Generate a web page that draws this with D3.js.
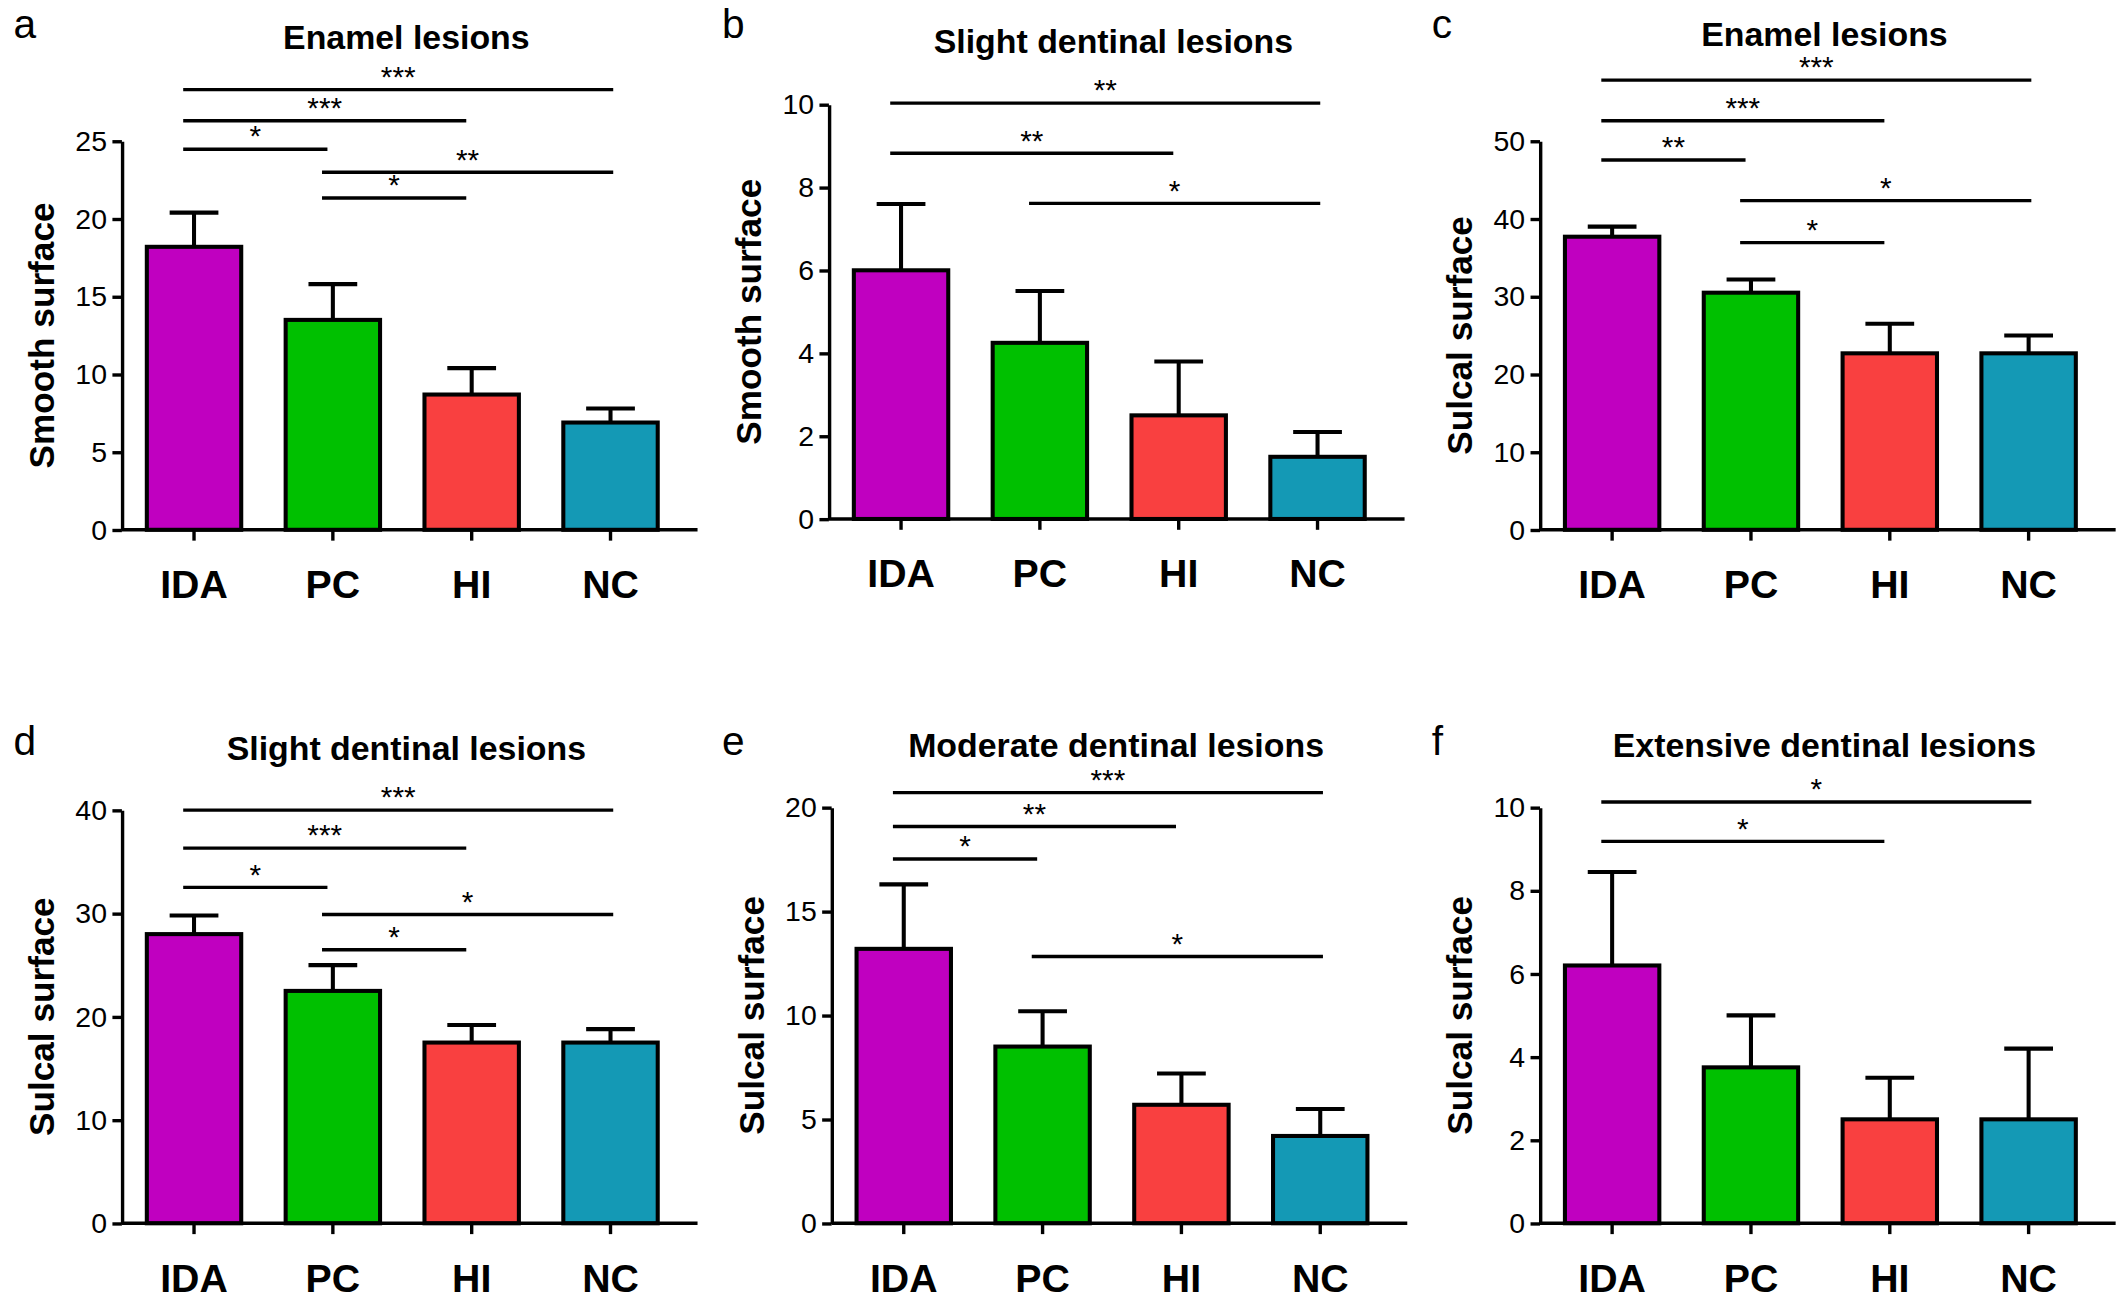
<!DOCTYPE html><html><head><meta charset="utf-8"><script src="https://cdn.jsdelivr.net/npm/d3@7"></script>
<style>body{margin:0;background:#fff}text{font-family:"Liberation Sans",Arial,sans-serif}</style></head><body>
<svg id="c" width="2117" height="1298" viewBox="0 0 1563 958"></svg>
<script>
const categories=["IDA","PC","HI","NC"];
const colors=["#c000c0","#00c000","#f94040","#1499b5"];
const panelLetters=["a","b","c","d","e","f"];
const titles=["Enamel lesions","Slight dentinal lesions","Enamel lesions","Slight dentinal lesions","Moderate dentinal lesions","Extensive dentinal lesions"];
const yLabels=["Smooth surface","Smooth surface","Sulcal surface","Sulcal surface","Sulcal surface","Sulcal surface"];
const yMax=[25,10,50,40,20,10];
const yStep=[5,2,10,10,5,2];
const means=[[18.2,13.5,8.7,6.9],[6.0,4.25,2.5,1.5],[37.7,30.5,22.7,22.7],[28,22.5,17.5,17.5],[13.2,8.5,5.7,4.2],[6.2,3.75,2.5,2.5]];
const sems=[[2.2,2.3,1.7,0.9],[1.6,1.25,1.3,0.6],[1.3,1.7,3.8,2.3],[1.8,2.5,1.7,1.3],[3.1,1.7,1.5,1.3],[2.25,1.25,1.0,1.7]];
const sigs=[
 [[0,3,"***",66],[0,2,"***",89],[0,1,"*",110],[1,3,"**",127],[1,2,"*",146]],
 [[0,3,"**",76],[0,2,"**",113],[1,3,"*",150]],
 [[0,3,"***",59],[0,2,"***",89],[0,1,"**",118],[1,3,"*",148],[1,2,"*",179]],
 [[0,3,"***",78],[0,2,"***",106],[0,1,"*",135],[1,3,"*",155],[1,2,"*",181]],
 [[0,3,"***",65],[0,2,"**",90],[0,1,"*",114],[1,3,"*",186]],
 [[0,3,"*",72],[0,2,"*",101]]
];
const layout=[{ax:90,base:391,top:104,ox:0,oy:0},{ax:612,base:383,top:77,ox:523,oy:0},{ax:1137,base:391,top:104,ox:1047,oy:0},
 {ax:90,base:903,top:598,ox:0,oy:520},{ax:614,base:903,top:596,ox:523,oy:520},{ax:1137,base:903,top:596,ox:1047,oy:520}];
const titleY=[28,31,26,553,551,551];
const svg=d3.select("#c");
layout.forEach((L,i)=>{
 const g=svg.append("g");
 const x=d3.scaleBand().domain(categories).range([L.ax+2,L.ax+412]).paddingInner(0.32).paddingOuter(0.16);
 const y=d3.scaleLinear().domain([0,yMax[i]]).range([L.base,L.top]);
 const cx=c=>x(c)+x.bandwidth()/2;
 g.append("text").attr("x",L.ox+10).attr("y",L.oy+(i<3?28:37)).attr("font-size",30).text(panelLetters[i]);
 g.append("text").attr("x",L.ax+210).attr("y",titleY[i]+8).attr("text-anchor","middle").attr("font-size",25).attr("font-weight","bold").text(titles[i]);
 g.append("text").attr("transform",`translate(${L.ax-50},${(L.base+L.top)/2}) rotate(-90)`).attr("text-anchor","middle").attr("font-size",26).attr("font-weight","bold").text(yLabels[i]);
 categories.forEach((c,j)=>{
  const m=means[i][j],e=m+sems[i][j];
  g.append("line").attr("x1",cx(c)).attr("x2",cx(c)).attr("y1",y(m)).attr("y2",y(e)).attr("stroke","#000").attr("stroke-width",3);
  g.append("line").attr("x1",cx(c)-18).attr("x2",cx(c)+18).attr("y1",y(e)).attr("y2",y(e)).attr("stroke","#000").attr("stroke-width",3);
  g.append("rect").attr("x",x(c)).attr("width",x.bandwidth()).attr("y",y(m)).attr("height",L.base-y(m)).attr("fill",colors[j]).attr("stroke","#000").attr("stroke-width",3);
 });
 const ya=g.append("g").attr("transform",`translate(${L.ax},0)`).call(d3.axisLeft(y).tickValues(d3.range(0,yMax[i]+0.01,yStep[i])).tickSize(7).tickSizeOuter(0));
 ya.select(".domain").attr("stroke-width",2.5);
 ya.selectAll(".tick line").attr("stroke-width",2.5);
 ya.selectAll("text").attr("font-size",21).attr("font-family","Liberation Sans").attr("fill","#000").attr("dx",-1);
 const xa=g.append("g").attr("transform",`translate(0,${L.base})`).call(d3.axisBottom(x).tickSize(8).tickSizeOuter(0).tickPadding(22));
 xa.select(".domain").attr("d",`M${L.ax},0H${L.ax+425}`).attr("stroke-width",2.5);
 xa.selectAll(".tick line").attr("stroke-width",2.5);
 xa.selectAll("text").attr("font-size",29).attr("font-weight","bold").attr("font-family","Liberation Sans").attr("fill","#000");
 sigs[i].forEach(s=>{
  const yy=L.oy+s[3],x1=cx(categories[s[0]])-8,x2=cx(categories[s[1]])+(s[1]==3?2:-4);
  g.append("line").attr("x1",x1).attr("x2",x2).attr("y1",yy).attr("y2",yy).attr("stroke","#000").attr("stroke-width",2.5);
  g.append("text").attr("x",(x1+x2)/2).attr("y",yy-2).attr("text-anchor","middle").attr("font-size",22).text(s[2]);
 });
});
</script></body></html>
